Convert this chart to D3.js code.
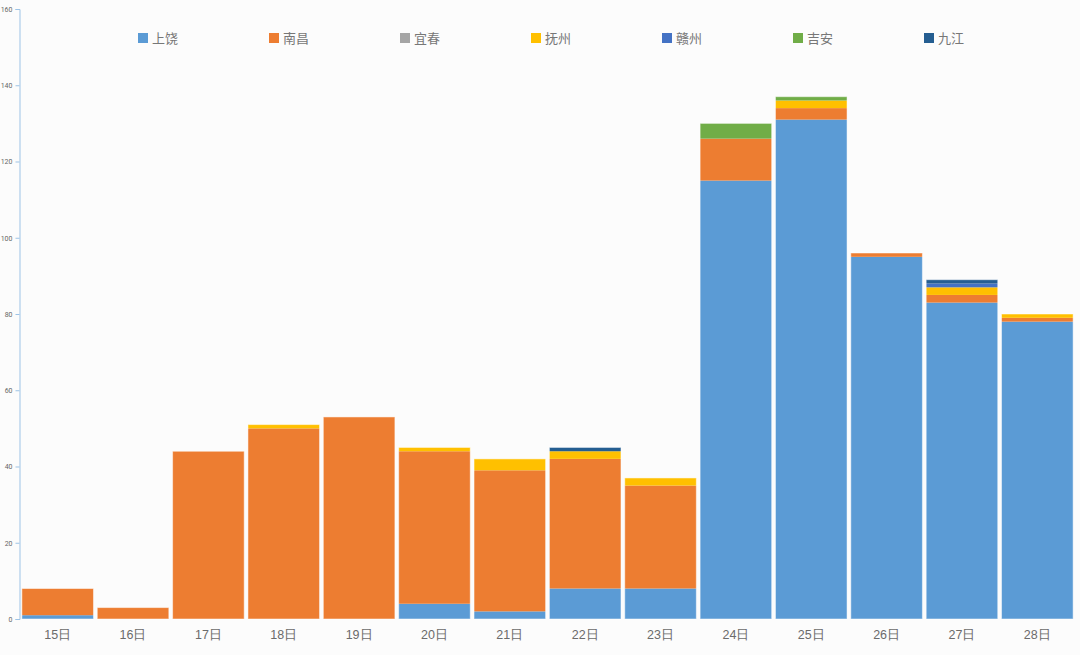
<!DOCTYPE html>
<html>
<head>
<meta charset="utf-8">
<script src="https://cdn.jsdelivr.net/npm/d3@7"></script>
<style>
html,body{margin:0;padding:0;background:#fcfcfc;}
svg{display:block;font-family:"Noto Sans CJK SC","Noto Sans",sans-serif;}
</style>
</head>
<body>
<svg id="chart" width="1080" height="655"></svg>
<script>
const categories = ["15日","16日","17日","18日","19日","20日","21日","22日","23日","24日","25日","26日","27日","28日"];
const seriesNames = ["上饶","南昌","宜春","抚州","赣州","吉安","九江"];
const shangrao = [1,0,0,0,0,4,2,8,8,115,131,95,83,78];
const nanchang = [7,3,44,50,53,40,37,34,27,11,3,1,2,1];
const yichun   = [0,0,0,0,0,0,0,0,0,0,0,0,0,0];
const fuzhou   = [0,0,0,1,0,1,3,2,2,0,2,0,2,1];
const ganzhou  = [0,0,0,0,0,0,0,0,0,0,0,0,1,0];
const jian     = [0,0,0,0,0,0,0,0,0,4,1,0,0,0];
const jiujiang = [0,0,0,0,0,0,0,1,0,0,0,0,1,0];
const yTicks = [0,20,40,60,80,100,120,140,160];
const colors = ["#5b9bd5","#ed7d31","#a5a5a5","#ffc000","#4472c4","#70ad47","#255e91"];

const values = [shangrao,nanchang,yichun,fuzhou,ganzhou,jian,jiujiang];
const table = categories.map((c,i)=>{
  const row = {cat:c};
  seriesNames.forEach((s,j)=>row[s]=values[j][i]);
  return row;
});

const svg = d3.select("#chart");
const x = d3.scaleBand().domain(categories).range([20,1075]).paddingInner(0.05).paddingOuter(0.025);
const y = d3.scaleLinear().domain([0,160]).range([619,9]);

const stacked = d3.stack().keys(seriesNames)(table);

svg.append("g").selectAll("g").data(stacked).join("g")
  .attr("fill",(d,i)=>colors[i])
  .selectAll("rect").data(d=>d).join("rect")
  .attr("x",d=>x(d.data.cat))
  .attr("width",x.bandwidth())
  .attr("y",d=>y(d[1]))
  .attr("height",d=>Math.max(0,y(d[0])-y(d[1])));

// thin light outline around each column
svg.append("g").selectAll("rect").data(table).join("rect")
  .attr("x",d=>x(d.cat))
  .attr("width",x.bandwidth())
  .attr("y",d=>y(d3.sum(seriesNames,s=>d[s])))
  .attr("height",d=>619-y(d3.sum(seriesNames,s=>d[s])))
  .attr("fill","none").attr("stroke","#ffffff").attr("stroke-opacity",0.5).attr("stroke-width",1);

// y axis
const yAxis = d3.axisLeft(y).tickValues(yTicks).tickSize(4).tickPadding(3);
const gy = svg.append("g").attr("transform","translate(19.5,0)").call(yAxis);
gy.select(".domain").attr("stroke","#9dc3e6");
gy.selectAll(".tick line").attr("stroke","#9dc3e6");
gy.selectAll("text").attr("fill","#666").style("font-size","7px").style("font-family","Roboto,sans-serif");

// x axis labels
const xAxis = d3.axisBottom(x).tickSize(0).tickPadding(11);
const gx = svg.append("g").attr("transform","translate(0,619)").call(xAxis);
gx.select(".domain").remove();
gx.selectAll("text").attr("fill","#6b6b6b").style("font-size","12.5px");

// legend
const legend = svg.append("g").selectAll("g").data(seriesNames).join("g")
  .attr("transform",(d,i)=>`translate(${138 + i*131},38)`);
legend.append("rect").attr("x",0).attr("y",-5).attr("width",10).attr("height",10).attr("fill",(d,i)=>colors[i]);
legend.append("text").attr("x",14).attr("y",0).attr("dy","0.35em").attr("fill","#777").style("font-size","13px").text(d=>d);
</script>
</body>
</html>
